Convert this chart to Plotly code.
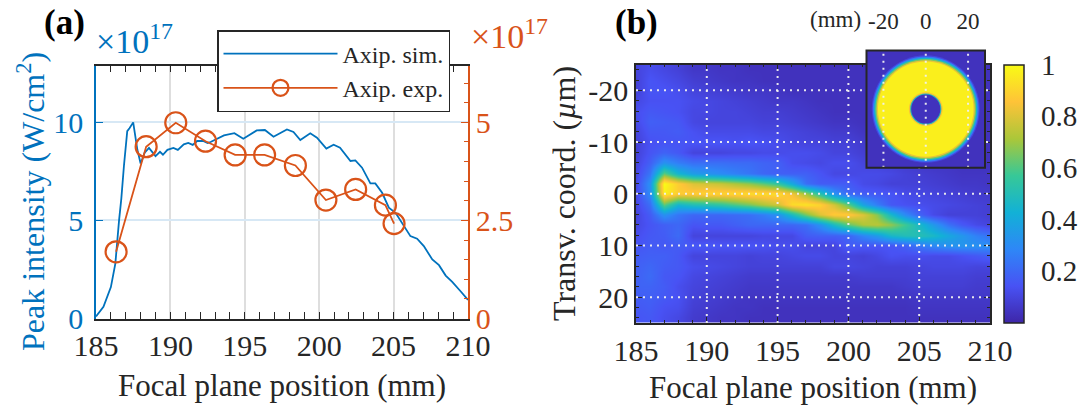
import numpy as np
import plotly.graph_objects as go
from plotly.colors import sample_colorscale

W, H = 1079, 406
FONT = "Liberation Serif, Times New Roman, serif"
BLUE = "#0072BD"
ORANGE = "#D95319"
INK = "#262626"

# ---------------- Panel (a) data ----------------
sim_x = [185.0, 185.5, 186.0, 186.3, 186.55, 186.7, 186.88, 187.1, 187.25, 187.5,
         187.78, 188.0, 188.27, 188.56, 189.0, 189.3, 189.5, 189.8, 190.2, 190.5,
         190.9, 191.2, 191.5, 191.8, 192.2, 192.5, 192.7, 193.6, 194.3, 194.9,
         195.8, 196.35, 196.93, 197.83, 198.27, 198.73, 199.4, 199.85, 200.48, 200.97,
         201.4, 202.1, 202.43, 202.88, 203.44, 203.77, 204.23, 204.68, 205.13, 205.68,
         206.13, 206.58, 207.03, 207.6, 208.05, 208.5, 208.94, 209.5, 210.0]
sim_y = [0.1, 0.6, 1.6, 2.8, 5.0, 6.1, 7.8, 9.55, 9.7, 10.0,
         8.6, 7.9, 8.45, 8.7, 8.28, 8.5, 8.35, 8.6, 8.7, 8.6,
         8.88, 8.95, 8.85, 9.05, 9.05, 8.95, 9.0, 9.34, 9.45, 9.17,
         9.59, 9.61, 9.27, 9.64, 9.51, 9.10, 9.44, 9.22, 8.66, 8.86,
         8.71, 8.03, 8.06, 7.69, 6.89, 6.89, 6.41, 5.65, 5.39, 4.71,
         4.20, 4.07, 3.69, 3.01, 2.72, 2.19, 1.87, 1.39, 0.95]

exp_x = [186.35, 188.37, 190.36, 192.36, 194.35, 196.33, 198.4, 200.45, 202.45, 204.45, 205.03]
exp_y = [1.70, 4.38, 4.99, 4.52, 4.17, 4.17, 3.90, 3.02, 3.29, 2.89, 2.42]

a_xticks = [185, 190, 195, 200, 205, 210]
a_yticks_left = [0, 5, 10]
a_yticks_right = [0, 2.5, 5]

# ---------------- Panel (b) data ----------------
hm_x = list(range(185, 211))                 # focal plane position (mm)
hm_y = list(range(-24, 25, 2))               # transverse coordinate (um)
# one list per focal position, values in % of peak, from y=-24 (top) to y=24
hm_cols = [
    [10, 9, 9, 11, 13, 12, 10, 9, 9, 10, 11, 12, 12, 11, 10, 11, 13, 15, 17, 18, 18, 19, 17, 16, 15],
    [13, 15, 15, 14, 16, 18, 16, 14, 15, 18, 24, 32, 30, 22, 17, 15, 16, 17, 18, 20, 21, 19, 18, 17, 16],
    [11, 13, 15, 14, 15, 17, 16, 15, 19, 32, 62, 100, 97, 62, 32, 18, 17, 16, 18, 17, 16, 17, 16, 14, 13],
    [9, 11, 13, 14, 14, 16, 17, 15, 16, 26, 45, 88, 88, 45, 24, 20, 21, 17, 16, 16, 15, 13, 14, 13, 11],
    [6, 8, 10, 12, 11, 11, 14, 15, 10, 22, 36, 80, 88, 50, 20, 15, 10, 16, 10, 13, 11, 10, 9, 8, 7],
    [6, 7, 9, 11, 11, 10, 12, 15, 10, 22, 33, 78, 90, 52, 20, 16, 10, 16, 10, 12, 10, 9, 8, 7, 6],
    [5, 6, 8, 10, 10, 10, 12, 15, 10, 22, 30, 76, 90, 55, 20, 16, 10, 15, 10, 11, 9, 8, 7, 6, 5],
    [5, 5, 7, 9, 10, 10, 12, 14, 11, 21, 27, 72, 91, 60, 21, 18, 10, 15, 10, 10, 8, 7, 6, 5, 5],
    [4, 5, 6, 8, 9, 10, 12, 15, 11, 21, 24, 68, 92, 65, 22, 20, 10, 15, 9, 9, 7, 6, 5, 5, 4],
    [4, 4, 6, 7, 8, 9, 11, 14, 12, 19, 20, 62, 92, 72, 26, 20, 11, 14, 10, 9, 7, 6, 5, 4, 4],
    [4, 4, 5, 6, 8, 9, 11, 13, 12, 18, 18, 55, 92, 78, 32, 20, 11, 13, 10, 9, 7, 6, 5, 4, 4],
    [4, 4, 4, 6, 7, 8, 10, 11, 13, 13, 18, 40, 84, 92, 48, 20, 11, 13, 11, 9, 7, 6, 5, 4, 4],
    [4, 4, 4, 5, 6, 7, 9, 10, 13, 12, 18, 22, 70, 94, 65, 22, 17, 10, 12, 9, 7, 6, 5, 4, 4],
    [4, 4, 4, 4, 5, 6, 8, 10, 12, 11, 15, 17, 52, 90, 80, 32, 18, 10, 12, 9, 7, 6, 5, 4, 4],
    [4, 4, 4, 4, 4, 5, 7, 9, 10, 13, 11, 17, 32, 78, 88, 48, 18, 10, 10, 11, 7, 6, 5, 4, 4],
    [4, 4, 4, 4, 4, 5, 7, 9, 10, 13, 11, 17, 20, 62, 88, 62, 19, 17, 10, 11, 7, 6, 5, 4, 4],
    [4, 4, 4, 4, 4, 4, 5, 7, 8, 10, 12, 12, 17, 38, 80, 72, 28, 16, 9, 10, 8, 6, 5, 4, 4],
    [4, 4, 4, 4, 4, 4, 5, 6, 7, 9, 12, 11, 16, 26, 67, 74, 35, 15, 11, 9, 8, 6, 5, 4, 4],
    [4, 4, 4, 4, 4, 4, 4, 5, 6, 8, 11, 9, 15, 16, 46, 68, 46, 15, 14, 9, 8, 6, 5, 4, 4],
    [4, 4, 4, 4, 4, 4, 4, 4, 5, 7, 9, 9, 12, 14, 30, 58, 50, 18, 13, 9, 8, 7, 5, 4, 4],
    [4, 4, 4, 4, 4, 4, 4, 4, 4, 6, 8, 9, 11, 13, 19, 47, 51, 24, 13, 10, 9, 8, 6, 5, 4],
    [4, 4, 4, 4, 4, 4, 4, 4, 4, 5, 7, 8, 10, 12, 12, 35, 47, 29, 12, 11, 9, 8, 6, 5, 4],
    [4, 4, 4, 4, 4, 4, 4, 4, 4, 5, 6, 7, 9, 11, 9, 23, 40, 32, 12, 11, 9, 8, 6, 5, 4],
    [4, 4, 4, 4, 4, 4, 4, 4, 4, 4, 5, 6, 8, 10, 9, 16, 34, 33, 14, 11, 9, 8, 6, 5, 4],
    [4, 4, 4, 4, 4, 4, 4, 4, 4, 4, 5, 6, 7, 9, 9, 12, 27, 32, 16, 10, 8, 7, 6, 5, 4],
    [4, 4, 4, 4, 4, 4, 4, 4, 4, 4, 5, 5, 7, 8, 8, 10, 23, 31, 18, 10, 8, 7, 6, 5, 4],
]
b_xticks = [185, 190, 195, 200, 205, 210]
b_yticks = [-20, -10, 0, 10, 20]
cb_ticks = [0.2, 0.4, 0.6, 0.8, 1.0]
cb_text = ["0.2", "0.4", "0.6", "0.8", "1"]

# inset: annular beam profile, radius (mm) -> normalized intensity
ring_center = [0.0, 0.0]
ring_r = [25.5, 25.0, 24.4, 23.8, 23.2, 22.6, 8.0, 7.4, 6.9]
ring_v = [0.10, 0.25, 0.45, 0.65, 0.82, 0.97, 0.85, 0.50, 0.04]
inset_bg_v = 0.04
inset_ticks = [-20, 0, 20]

PARULA = [
    [0.0, "rgb(62,38,168)"], [1/7, "rgb(72,82,244)"], [2/7, "rgb(46,135,247)"],
    [3/7, "rgb(18,177,214)"], [4/7, "rgb(55,200,151)"], [5/7, "rgb(171,199,57)"],
    [6/7, "rgb(254,195,56)"], [1.0, "rgb(249,251,21)"],
]

z = (np.array(hm_cols, dtype=float).T / 100.0)

def fx(p):
    return p / W

def fy(p):
    return 1 - p / H

fig = go.Figure()

fig.add_trace(go.Scatter(x=sim_x, y=sim_y, mode="lines", name="Axip. sim.",
                         line=dict(color=BLUE, width=1.8), xaxis="x", yaxis="y"))
fig.add_trace(go.Scatter(x=exp_x, y=exp_y, mode="lines+markers", name="Axip. exp.",
                         line=dict(color=ORANGE, width=1.8),
                         marker=dict(symbol="circle-open", size=21, color=ORANGE,
                                     line=dict(width=2.2, color=ORANGE)),
                         xaxis="x", yaxis="y2"))

fig.add_trace(go.Heatmap(x=hm_x, y=hm_y, z=z, colorscale=PARULA, zmin=0, zmax=1,
                         zsmooth="best", xaxis="x2", yaxis="y3", showscale=True,
                         colorbar=dict(x=fx(1004), xanchor="left", thickness=20,
                                       len=(322.7 - 64.7) / H, lenmode="fraction",
                                       y=fy(193.7), yanchor="middle",
                                       outlinecolor=INK, outlinewidth=1.5,
                                       ticks="outside", ticklen=11, tickcolor="white",
                                       tickvals=cb_ticks, ticktext=cb_text,
                                       tickfont=dict(family=FONT, size=29, color=INK),
                                       xpad=0, ypad=0)))

fig.add_trace(go.Scatter(x=[ring_center[0]], y=[ring_center[1]], mode="markers",
                         marker=dict(size=1, opacity=0), showlegend=False,
                         hoverinfo="skip", xaxis="x3", yaxis="y4"))

tickfont = dict(family=FONT, size=30, color=INK)

fig.update_layout(
    width=W, height=H, margin=dict(l=0, r=0, t=0, b=0, autoexpand=False),
    paper_bgcolor="white", plot_bgcolor="white",
    font=dict(family=FONT, color=INK),
    showlegend=True,
    legend=dict(x=fx(217), y=fy(30), xanchor="left", yanchor="top",
                bgcolor="white", bordercolor=INK, borderwidth=1.5,
                font=dict(family=FONT, size=24, color=INK), itemwidth=114,
                tracegroupgap=0),
    xaxis=dict(domain=[fx(96), fx(468)], range=[185, 210], tickvals=a_xticks,
               ticks="inside", ticklen=7, tickcolor=INK, tickwidth=1.2,
               showline=True, linecolor=INK, linewidth=1.5, mirror="allticks",
               showgrid=True, gridcolor="#DEDEDE", gridwidth=1.5, zeroline=False,
               minor=dict(dtick=1, ticks="inside", ticklen=4, tickcolor=INK, showgrid=False),
               tickfont=tickfont, anchor="y"),
    yaxis=dict(domain=[fy(318.5), fy(65.5)], range=[0, 12.9], tickvals=a_yticks_left,
               ticks="inside", ticklen=7, tickcolor=BLUE, showline=True, linecolor=BLUE,
               linewidth=1.5, showgrid=True, gridcolor="#D7E8F5", gridwidth=1.5,
               zeroline=False, ticklabelstandoff=5,
               tickfont=dict(family=FONT, size=30, color=BLUE), anchor="x"),
    yaxis2=dict(overlaying="y", side="right", range=[0, 6.45], tickvals=a_yticks_right,
                ticktext=["0", "2.5", "5"], ticks="inside", ticklen=7, tickcolor=ORANGE,
                showline=True, linecolor=ORANGE, linewidth=1.5, showgrid=False,
                zeroline=False,
                minor=dict(dtick=0.5, ticks="inside", ticklen=4, tickcolor=ORANGE),
                tickfont=dict(family=FONT, size=30, color=ORANGE), anchor="x"),
    xaxis2=dict(domain=[fx(636), fx(990)], range=[185, 210], tickvals=b_xticks,
                ticks="inside", ticklen=6, tickcolor=INK, showline=True, linecolor=INK,
                linewidth=1.5, mirror="allticks", showgrid=False, zeroline=False,
                minor=dict(dtick=1, ticks="inside", ticklen=3, tickcolor=INK),
                tickfont=tickfont, anchor="y3"),
    yaxis3=dict(domain=[fy(323), fy(64.5)], range=[25, -25], tickvals=b_yticks,
                ticktext=["-20", "-10", "0", "10", "20"],
                ticks="inside", ticklen=6, tickcolor=INK, showline=True, linecolor=INK,
                linewidth=1.5, mirror="allticks", showgrid=False, zeroline=False,
                minor=dict(dtick=2, ticks="inside", ticklen=3, tickcolor=INK),
                tickfont=tickfont, anchor="x2"),
    xaxis3=dict(domain=[fx(866.5), fx(985)], range=[-28, 28], tickvals=inset_ticks,
                ticktext=["-20", "0", "20"], side="top", ticks="", showline=False,
                showgrid=False, zeroline=False, ticklabelstandoff=16,
                tickfont=dict(family=FONT, size=23, color=INK), anchor="y4"),
    yaxis4=dict(domain=[fy(167.7), fy(50.5)], range=[-27.8, 27.8], showticklabels=False,
                ticks="", showline=False, showgrid=False, zeroline=False, anchor="x3"),
)

shapes = []
grid_line = dict(color="rgba(240,240,240,0.95)", width=2, dash="2px,5px")
for gx in b_xticks[1:-1]:
    shapes.append(dict(type="line", xref="x2", yref="y3 domain", x0=gx, x1=gx, y0=0, y1=1,
                       line=grid_line, layer="above"))
for gy in b_yticks:
    shapes.append(dict(type="line", xref="x2 domain", yref="y3", x0=0, x1=1, y0=gy, y1=gy,
                       line=grid_line, layer="above"))
# colorbar inner tick marks
for cv in cb_ticks[:-1]:
    shapes.append(dict(type="line", xref="paper", yref="paper",
                       x0=fx(1020), x1=fx(1024),
                       y0=fy(322.7) + cv * (322.7 - 64.7) / H,
                       y1=fy(322.7) + cv * (322.7 - 64.7) / H,
                       line=dict(color=INK, width=1.2), layer="above"))
# inset background
bg_col = sample_colorscale(PARULA, [inset_bg_v])[0]
shapes.append(dict(type="rect", xref="x3 domain", yref="y4 domain", x0=0, x1=1, y0=0, y1=1,
                   fillcolor=bg_col, line=dict(width=0), layer="above"))
ring_cols = sample_colorscale(PARULA, ring_v)
for r, c in zip(ring_r, ring_cols):
    shapes.append(dict(type="circle", xref="x3", yref="y4",
                       x0=ring_center[0] - r, x1=ring_center[0] + r,
                       y0=ring_center[1] - r, y1=ring_center[1] + r,
                       fillcolor=c, line=dict(width=0), layer="above"))
for gx in inset_ticks:
    shapes.append(dict(type="line", xref="x3", yref="y4 domain", x0=gx, x1=gx, y0=0, y1=1,
                       line=grid_line, layer="above"))
shapes.append(dict(type="rect", xref="x3 domain", yref="y4 domain", x0=0, x1=1, y0=0, y1=1,
                   line=dict(color=INK, width=2), fillcolor="rgba(0,0,0,0)", layer="above"))
fig.update_layout(shapes=shapes)

ann = []
ann.append(dict(text="<b>(a)</b>", x=fx(42), y=fy(23), xref="paper", yref="paper",
                xanchor="left", yanchor="middle", showarrow=False,
                font=dict(family=FONT, size=35, color="black")))
ann.append(dict(text="<b>(b)</b>", x=fx(613), y=fy(23), xref="paper", yref="paper",
                xanchor="left", yanchor="middle", showarrow=False,
                font=dict(family=FONT, size=35, color="black")))
ann.append(dict(text="×10<sup>17</sup>", x=fx(94), y=fy(62), xref="paper", yref="paper",
                xanchor="left", yanchor="bottom", showarrow=False,
                font=dict(family=FONT, size=34, color=BLUE)))
ann.append(dict(text="×10<sup>17</sup>", x=fx(469), y=fy(57), xref="paper", yref="paper",
                xanchor="left", yanchor="bottom", showarrow=False,
                font=dict(family=FONT, size=34, color=ORANGE)))
ann.append(dict(text="Peak intensity (W/cm<sup>2</sup>)", x=fx(31), y=fy(202),
                xref="paper", yref="paper", xanchor="center", yanchor="middle",
                textangle=-90, showarrow=False, font=dict(family=FONT, size=32, color=BLUE)))
ann.append(dict(text="Focal plane position (mm)", x=fx(282), y=fy(385), xref="paper",
                yref="paper", xanchor="center", yanchor="middle", showarrow=False,
                font=dict(family=FONT, size=31, color=INK)))
ann.append(dict(text="Focal plane position (mm)", x=fx(813), y=fy(387), xref="paper",
                yref="paper", xanchor="center", yanchor="middle", showarrow=False,
                font=dict(family=FONT, size=31, color=INK)))
ann.append(dict(text="Transv. coord. (<i>µ</i>m)", x=fx(564), y=fy(194), xref="paper",
                yref="paper", xanchor="center", yanchor="middle", textangle=-90,
                showarrow=False, font=dict(family=FONT, size=32, color=INK)))
ann.append(dict(text="(mm)", x=fx(863), y=fy(19), xref="paper", yref="paper",
                xanchor="right", yanchor="middle", showarrow=False,
                font=dict(family=FONT, size=23, color=INK)))
fig.update_layout(annotations=ann)

fig.write_html("out.html", config={"displayModeBar": False},
               post_script="document.body.style.margin='0px';"
                           "document.body.style.overflow='hidden';")
